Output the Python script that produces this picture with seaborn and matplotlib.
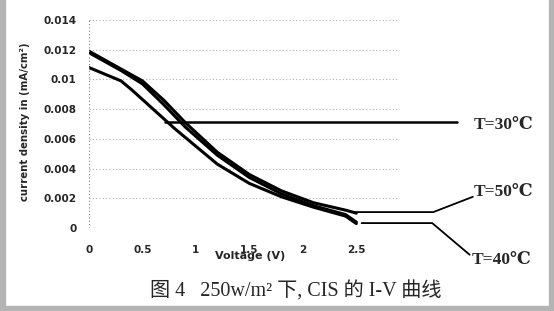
import matplotlib
matplotlib.use("Agg")
import matplotlib.pyplot as plt
import seaborn as sns
import pandas as pd
from matplotlib.patches import Rectangle

# --- data ---
volt_a = [0.0, 0.3, 0.5, 0.7, 0.9, 1.2, 1.5, 1.8, 2.1, 2.4, 2.5]
cur_50 = [0.0119, 0.0107, 0.0099, 0.0086, 0.0071, 0.0051, 0.0036, 0.0025, 0.0017, 0.0012, 0.0010]
cur_30 = [0.0118, 0.0106, 0.0097, 0.0083, 0.0068, 0.0049, 0.0034, 0.0023, 0.0015, 0.0009, 0.0004]
volt_b = [0.0, 0.3, 0.4, 0.6, 0.8, 1.0, 1.2, 1.5, 1.8, 2.1, 2.4, 2.5]
cur_40 = [0.0108, 0.0099, 0.0093, 0.0080, 0.0067, 0.0055, 0.0043, 0.0030, 0.0021, 0.0014, 0.0008, 0.0003]

x_ticks = [0, 0.5, 1, 1.5, 2, 2.5]
x_tick_labels = ["0", "0.5", "1", "1.5", "2", "2.5"]
y_ticks = [0, 0.002, 0.004, 0.006, 0.008, 0.01, 0.012, 0.014]
y_tick_labels = ["0", "0.002", "0.004", "0.006", "0.008", "0.01", "0.012", "0.014"]

labels = ["T=30\u2103", "T=50\u2103", "T=40\u2103"]
caption = "图 4   250w/m\u00b2 下, CIS 的 I-V 曲线"

df = pd.concat([
    pd.DataFrame({"V": volt_a, "J": cur_50, "s": "50"}),
    pd.DataFrame({"V": volt_a, "J": cur_30, "s": "30"}),
    pd.DataFrame({"V": volt_b, "J": cur_40, "s": "40"}),
])

sns.set_theme(style="white")
plt.rcParams['font.family'] = ['DejaVu Sans', 'Noto Sans CJK SC']

fig = plt.figure(figsize=(5.54, 3.11), dpi=100)
fig.patch.set_facecolor("white")
ax = fig.add_axes([0.1606, 0.2669, 0.5578, 0.6688])
ax.set_facecolor("white")

sns.lineplot(data=df, x="V", y="J", units="s", estimator=None, sort=False,
             color="black", linewidth=2.2, ax=ax, legend=False)

ax.set_xlim(0, 2.89)
ax.set_ylim(0, 0.014)
ax.set_xticks(x_ticks)
ax.set_xticklabels(x_tick_labels, fontsize=7.5, fontweight="bold")
ax.set_yticks(y_ticks)
ax.set_yticklabels(y_tick_labels, fontsize=7.5, fontweight="bold")
ax.tick_params(axis="x", length=0, pad=12)
ax.tick_params(axis="y", length=0, pad=9)
for s in ax.spines.values():
    s.set_visible(False)
ax.grid(axis="y", color="#b0b0b0", linestyle=(0, (1, 2)), linewidth=0.8)
ax.axvline(0, color="#808080", linestyle=(0, (1, 2)), linewidth=0.8)
ax.set_xlabel("")
ax.set_ylabel("")
ax.text(1.51, -0.0019, "Voltage (V)", fontsize=8, fontweight="bold",
        ha="center", va="center")
fig.text(25 / 554, 1 - 122 / 311, "current density in (mA/cm\u00b2)", rotation=90,
         fontsize=7.3, fontweight="bold", ha="center", va="center")

# leader lines for the labels
lead_kw = dict(color="black", linewidth=1.8, clip_on=False)
ax.plot([0.71, 3.44], [0.00715, 0.00715], **lead_kw)
ax.plot([2.46, 3.22, 3.59], [0.00107, 0.00107, 0.0021], color="black", linewidth=1.3, clip_on=False)
ax.plot([2.55, 3.21, 3.56], [0.00033, 0.00033, -0.0018], color="black", linewidth=1.3, clip_on=False)

lab_kw = dict(fontsize=12.5, fontweight="bold", family=["Liberation Serif", "DejaVu Serif"],
              va="center", ha="left")
fig.text(474 / 554, 1 - 125 / 311, labels[0], **lab_kw)
fig.text(474 / 554, 1 - 192 / 311, labels[1], **lab_kw)
fig.text(472 / 554, 1 - 260 / 311, labels[2], **lab_kw)

fig.text(296 / 554, 1 - 291 / 311, caption, fontsize=14.5,
         family=["Liberation Serif", "Noto Sans CJK SC"], ha="center", va="center")

# scan border
fig.patches.append(Rectangle((0, 0), 5 / 554, 1, transform=fig.transFigure, color="#b4b4b4"))
fig.patches.append(Rectangle((549 / 554, 0), 5 / 554, 1, transform=fig.transFigure, color="#b4b4b4"))
fig.patches.append(Rectangle((0, 0), 1, 5 / 311, transform=fig.transFigure, color="#b4b4b4"))

fig.savefig("out.png", dpi=100)
